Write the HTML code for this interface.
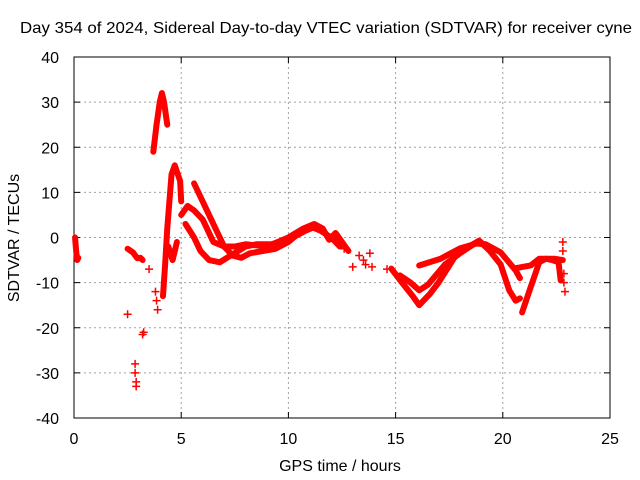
<!DOCTYPE html>
<html><head><meta charset="utf-8"><style>
body{margin:0;background:#fff;}
svg{display:block;font-family:"Liberation Sans",sans-serif;}
</style></head><body>
<svg id="chart" width="640" height="480">
<rect width="640" height="480" fill="#fff"/>
<text x="326" y="33" text-anchor="middle" font-size="16" textLength="612" lengthAdjust="spacingAndGlyphs">Day 354 of 2024, Sidereal Day-to-day VTEC variation (SDTVAR) for receiver cyne</text>
<g id="grid"></g>
<g id="axes"></g>
<g id="data"></g>
<text x="340" y="471" text-anchor="middle" font-size="16">GPS time / hours</text>
<text transform="translate(19,238) rotate(-90)" text-anchor="middle" font-size="16">SDTVAR / TECUs</text>
</svg>
<script>
const xTicks=[0,5,10,15,20,25];
const yTicks=[-40,-30,-20,-10,0,10,20,30,40];
const trackA=[[5.6,12],[5.9,9],[6.2,6],[6.6,2],[7.0,-2],[7.4,-4],[7.8,-4.5],[8.2,-3.5],[8.8,-3],[9.4,-2.5],[10,-1],[10.5,1],[11,2.5],[11.5,1.5],[12,0],[12.4,-2]];
const trackB=[[5.0,5],[5.3,7],[5.6,6],[6.0,4],[6.5,-1],[7.0,-2],[7.5,-2],[8,-1.5],[9,-2],[10,0],[10.7,2],[11.2,3],[11.6,2],[11.9,-0.5],[12.2,1],[12.5,-1],[12.8,-3]];
const trackC=[[5.2,3],[5.6,0],[5.9,-3],[6.3,-5],[6.8,-5.5],[7.3,-4],[8,-2],[8.5,-1.5],[9.2,-1.5],[10,-0.5],[10.8,1.5],[11.3,2.5]];
const trackD=[[3.7,19],[3.85,25],[4.0,30],[4.1,32],[4.2,30],[4.35,25]];
const trackE=[[4.15,-13],[4.25,-6],[4.35,2],[4.45,8],[4.55,14],[4.7,16],[4.95,12.5],[5.0,8]];
const trackF=[[4.4,-2],[4.6,-5],[4.7,-3],[4.8,-1]];
const trackG=[[2.5,-2.5],[2.75,-3.3],[2.95,-4.6],[3.1,-4.5],[3.2,-5]];
const trackH=[[14.8,-6.9],[15.3,-10],[15.8,-13],[16.1,-15],[16.6,-12.5],[17,-10],[17.4,-7],[17.8,-4],[18.5,-1.8],[18.9,-0.7],[19.4,-3],[19.9,-6],[20.3,-11.7],[20.6,-14],[20.8,-13.5]];
const trackI=[[15.2,-8.4],[15.7,-10],[16.1,-11.7],[16.5,-10.5],[17.3,-6],[18,-3.5],[18.7,-1.3],[19.2,-1.5],[19.9,-3.3],[20.6,-7.3],[20.8,-9]];
const trackJ=[[16.1,-6.2],[17.1,-4.7],[18,-2.4],[18.8,-1.3]];
const trackK=[[20.9,-16.6],[21.3,-11],[21.7,-5.5],[22,-4.7],[22.3,-5],[22.6,-5.5],[22.7,-9.5]];
const trackL=[[20.6,-6.8],[21.3,-6.2],[21.7,-4.7],[22.4,-4.7],[22.8,-5]];
const trackM=[[0.05,0],[0.1,-3],[0.15,-5],[0.2,-4.5]];
const isolated=[[2.5,-17],[3.2,-21.5],[3.25,-21],[2.85,-28],[2.85,-30],[2.9,-32],[2.9,-33],[3.8,-12],[3.85,-14],[3.9,-16],[3.5,-7],[13.3,-4],[13.5,-5],[13.6,-6],[13.8,-3.5],[13.9,-6.5],[14.6,-7],[13,-6.5],[22.8,-1],[22.8,-3],[22.85,-8],[22.85,-10],[22.9,-12],[12.6,-2.5]];
const tracks=[trackA,trackB,trackC,trackD,trackE,trackF,trackG,trackH,trackI,trackJ,trackK,trackL,trackM];
const NS="http://www.w3.org/2000/svg";
const X0=74,X1=610,Y0=418,Y1=57;
function sx(h){return X0+(h-0)/(25-0)*(X1-X0);}
function sy(v){return Y0-(v+40)/80*(Y0-Y1);}
function mk(tag,attrs,parent){const e=document.createElementNS(NS,tag);for(const k in attrs)e.setAttribute(k,attrs[k]);parent.appendChild(e);return e;}
const grid=document.getElementById('grid'),axes=document.getElementById('axes'),data=document.getElementById('data');
xTicks.forEach(t=>{
 if(t>0&&t<25){const l=mk('line',{x1:sx(t),x2:sx(t),y1:Y1,y2:Y0,stroke:'#a0a0a0','stroke-dasharray':'2,3'},grid);
 
 }
 mk('line',{x1:sx(t),x2:sx(t),y1:Y0,y2:Y0-6,stroke:'#000'},axes);
 mk('line',{x1:sx(t),x2:sx(t),y1:Y1,y2:Y1+6,stroke:'#000'},axes);
 const tx=mk('text',{x:sx(t),y:Y0+26,'text-anchor':'middle','font-size':16},axes);tx.textContent=t;
 
 
});
yTicks.forEach(t=>{
 if(t>-40&&t<40){const l=mk('line',{x1:X0,x2:X1,y1:sy(t),y2:sy(t),stroke:'#a0a0a0','stroke-dasharray':'2,3'},grid);
 
 }
 mk('line',{x1:X0,x2:X0+6,y1:sy(t),y2:sy(t),stroke:'#000'},axes);
 mk('line',{x1:X1,x2:X1-6,y1:sy(t),y2:sy(t),stroke:'#000'},axes);
 const tx=mk('text',{x:X0-15,y:sy(t)+6,'text-anchor':'end','font-size':16},axes);tx.textContent=t;
 
 
});
mk('rect',{x:X0,y:Y1,width:X1-X0,height:Y0-Y1,fill:'none',stroke:'#000'},axes);
tracks.forEach(tr=>{
 const p=mk('polyline',{points:tr.map(d=>sx(d[0])+','+sy(d[1])).join(' '),fill:'none',stroke:'#ff0000','stroke-width':6,'stroke-linejoin':'round','stroke-linecap':'round'},data);
 
 
});
isolated.forEach(d=>{
 const x=sx(d[0]),y=sy(d[1]);
 const p=mk('path',{d:`M${x-4},${y}H${x+4}M${x},${y-4}V${y+4}`,stroke:'#ff0000','stroke-width':1.5},data);
 
 
});
</script>
</body></html>
